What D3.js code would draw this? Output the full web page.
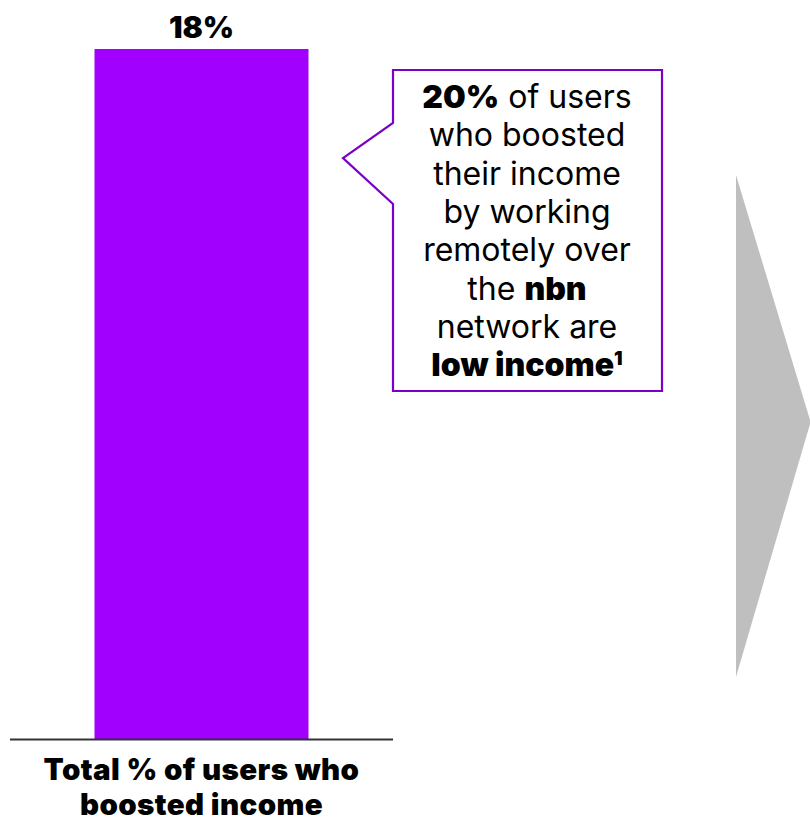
<!DOCTYPE html>
<html>
<head>
<meta charset="utf-8">
<script src="https://cdn.jsdelivr.net/npm/d3@7"></script>
<style>
  html, body { margin: 0; padding: 0; background: #fff; }
  svg { display: block; font-family: Inter, "Noto Sans", sans-serif; }
</style>
</head>
<body>
<svg id="chart" width="810" height="822"></svg>
<script>
// ---- data ----
const categories = ["Total % of users who boosted income"];
const values = [18];
const valueLabels = ["18%"];
const categoryLabelLines = ["Total % of users who", "boosted income"];
// callout text: each line is a list of [text, bold]
const calloutLines = [
  [["20%", true], [" of users", false]],
  [["who boosted", false]],
  [["their income", false]],
  [["by working", false]],
  [["remotely over", false]],
  [["the ", false], ["nbn", true]],
  [["network are", false]],
  [["low income", true], ["1", true]]
];

const svg = d3.select("#chart");
const baseY = 739;

const x = d3.scaleBand().domain(categories).range([10, 393]).paddingInner(0).paddingOuter(0.395);
const y = d3.scaleLinear().domain([0, 18]).range([baseY, 49]);

// gray arrow (decorative)
svg.append("path")
  .attr("d", "M736,175 L810,420 L810,424 L736,677 Z")
  .attr("fill", "#bfbfbf");

// bars
svg.selectAll("rect.bar").data(values).join("rect")
  .attr("class", "bar")
  .attr("x", (d, i) => x(categories[i]))
  .attr("width", x.bandwidth())
  .attr("y", d => y(d))
  .attr("height", d => baseY - y(d))
  .attr("fill", "#a100ff");

// value labels
svg.selectAll("text.val").data(values).join("text")
  .attr("class", "val")
  .attr("x", (d, i) => x(categories[i]) + x.bandwidth() / 2)
  .attr("y", d => y(d) - 11)
  .attr("text-anchor", "middle")
  .attr("font-size", 30)
  .attr("font-weight", 900)
  .attr("fill", "#000")
  .text((d, i) => valueLabels[i]);

// baseline axis
svg.append("line")
  .attr("x1", 10).attr("x2", 393)
  .attr("y1", baseY + 0.5).attr("y2", baseY + 0.5)
  .attr("stroke", "#333").attr("stroke-width", 2);

// category label (two lines)
svg.selectAll("text.cat").data(categoryLabelLines).join("text")
  .attr("class", "cat")
  .attr("x", x(categories[0]) + x.bandwidth() / 2)
  .attr("y", (d, i) => 780 + i * 35)
  .attr("text-anchor", "middle")
  .attr("font-size", 29.5)
  .attr("font-weight", 900)
  .attr("letter-spacing", 0.4)
  .attr("fill", "#000")
  .text(d => d);

// callout box with pointer
svg.append("path")
  .attr("d", "M393,70 L662,70 L662,391 L393,391 L393,204 L343,158 L393,123 Z")
  .attr("fill", "#fff")
  .attr("stroke", "#7a00c8")
  .attr("stroke-width", 2.2)
  .attr("stroke-linejoin", "miter");

const co = svg.append("text")
  .attr("text-anchor", "middle")
  .attr("font-size", 32)
  .attr("fill", "#000");
calloutLines.forEach((line, i) => {
  const t = co.append("tspan").attr("x", 527).attr("y", 108 + i * 38.3);
  line.forEach(([s, b], j) => {
    const sp = j === 0 ? t : co.append("tspan");
    sp.attr("font-weight", b ? 900 : 400).text(s);
    if (s === "1") sp.attr("font-size", 19).attr("dy", -11);
  });
});
</script>
</body>
</html>
